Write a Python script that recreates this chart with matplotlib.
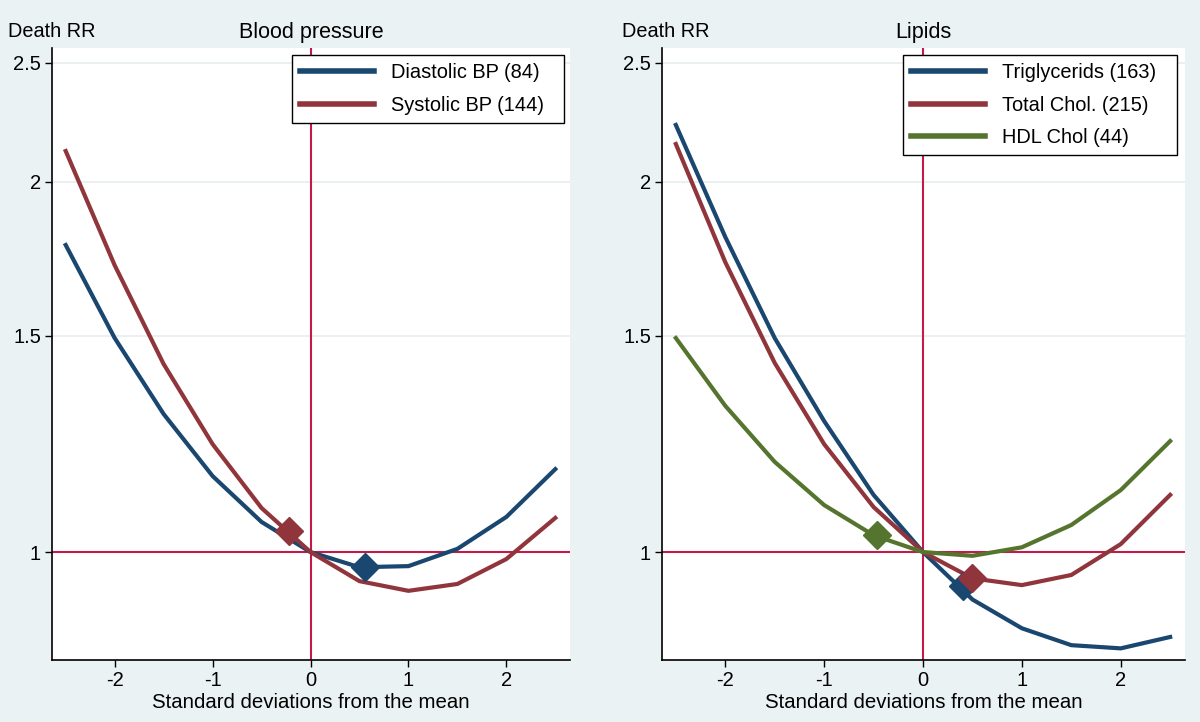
import numpy as np
import matplotlib.pyplot as plt
from matplotlib.ticker import FixedLocator, NullLocator

plt.rcParams['font.family'] = ['Liberation Sans', 'DejaVu Sans']

# data
sd = [-2.5, -2, -1.5, -1, -0.5, 0, 0.5, 1, 1.5, 2, 2.5]

diastolic = [1.777, 1.493, 1.295, 1.153, 1.058, 1.0, 0.972, 0.974, 1.006, 1.068, 1.168]
systolic = [2.119, 1.711, 1.422, 1.224, 1.086, 1.0, 0.947, 0.930, 0.942, 0.987, 1.066]
dia_min = (0.56, 0.972)
sys_min = (-0.22, 1.040)

trig = [2.225, 1.804, 1.493, 1.278, 1.113, 1.0, 0.915, 0.867, 0.840, 0.835, 0.853]
tchol = [2.147, 1.721, 1.425, 1.224, 1.088, 1.0, 0.952, 0.940, 0.958, 1.015, 1.113]
hdl = [1.493, 1.315, 1.184, 1.092, 1.032, 1.0, 0.993, 1.009, 1.052, 1.123, 1.231]
trig_min = (0.40, 0.938)
tchol_min = (0.50, 0.952)
hdl_min = (-0.47, 1.032)

navy = '#1A476F'
maroon = '#90353B'
green = '#55752F'
refc = '#C41A4A'
bg = '#EAF2F3'

fig = plt.figure(figsize=(12, 7.22), dpi=100, facecolor=bg)
ax1 = fig.add_axes([52/1200, 62/722, 518/1200, 612/722])
ax2 = fig.add_axes([662/1200, 62/722, 523/1200, 612/722])


def setup(ax, title, ylab_x):
    ax.set_facecolor('white')
    ax.set_yscale('log')
    ax.set_ylim(0.817, 2.57)
    ax.set_xlim(-2.64, 2.65)
    ax.yaxis.set_major_locator(FixedLocator([1, 1.5, 2, 2.5]))
    ax.yaxis.set_minor_locator(NullLocator())
    ax.set_yticklabels(['1', '1.5', '2', '2.5'])
    ax.set_xticks([-2, -1, 0, 1, 2])
    ax.set_xticklabels(['-2', '-1', '0', '1', '2'])
    ax.tick_params(labelsize=14.5, length=5, width=1, pad=3)
    for s in ['top', 'right']:
        ax.spines[s].set_visible(False)
    ax.spines['left'].set_linewidth(1.2)
    ax.spines['bottom'].set_linewidth(1.2)
    for v in [1.5, 2, 2.5]:
        ax.axhline(v, color='#E6EEF0', lw=1.2, zorder=0)
    ax.axhline(1, color=refc, lw=1.5, zorder=1)
    ax.axvline(0, color=refc, lw=1.5, zorder=1)
    ax.set_xlabel('Standard deviations from the mean', fontsize=14.7, labelpad=2)
    ax.set_title(title, fontsize=15.5, pad=7)
    fig.text(ylab_x, 1 - 37/722, 'Death RR', fontsize=14.3, ha='left', va='baseline')


def series(ax, y, mk, color, label):
    ax.plot(sd, y, color=color, lw=3, label=label, zorder=3,
            solid_joinstyle='miter')
    ax.plot(mk[0], mk[1], marker='D', ms=14, color=color, zorder=4)


setup(ax1, 'Blood pressure', 8/1200)
series(ax1, diastolic, dia_min, navy, 'Diastolic BP (84)')
series(ax1, systolic, sys_min, maroon, 'Systolic BP (144)')

setup(ax2, 'Lipids', 622/1200)
series(ax2, trig, trig_min, navy, 'Triglycerids (163)')
series(ax2, tchol, tchol_min, maroon, 'Total Chol. (215)')
series(ax2, hdl, hdl_min, green, 'HDL Chol (44)')

for ax, x0, x1 in ((ax1, 0.4633, 0.9884), (ax2, 0.4608, 0.9847)):
    leg = ax.legend(loc='upper left', fontsize=14.4, frameon=True, fancybox=False,
                    edgecolor='black', framealpha=1, handlelength=3.7,
                    borderpad=0.4, labelspacing=0.68, handletextpad=0.85,
                    borderaxespad=0, mode='expand',
                    bbox_to_anchor=(x0, 0.5, x1 - x0, 0.4886))
    leg.get_frame().set_linewidth(1.0)
    for h in leg.get_lines():
        h.set_linewidth(4)

fig.savefig('out.png', dpi=100, facecolor=bg)
